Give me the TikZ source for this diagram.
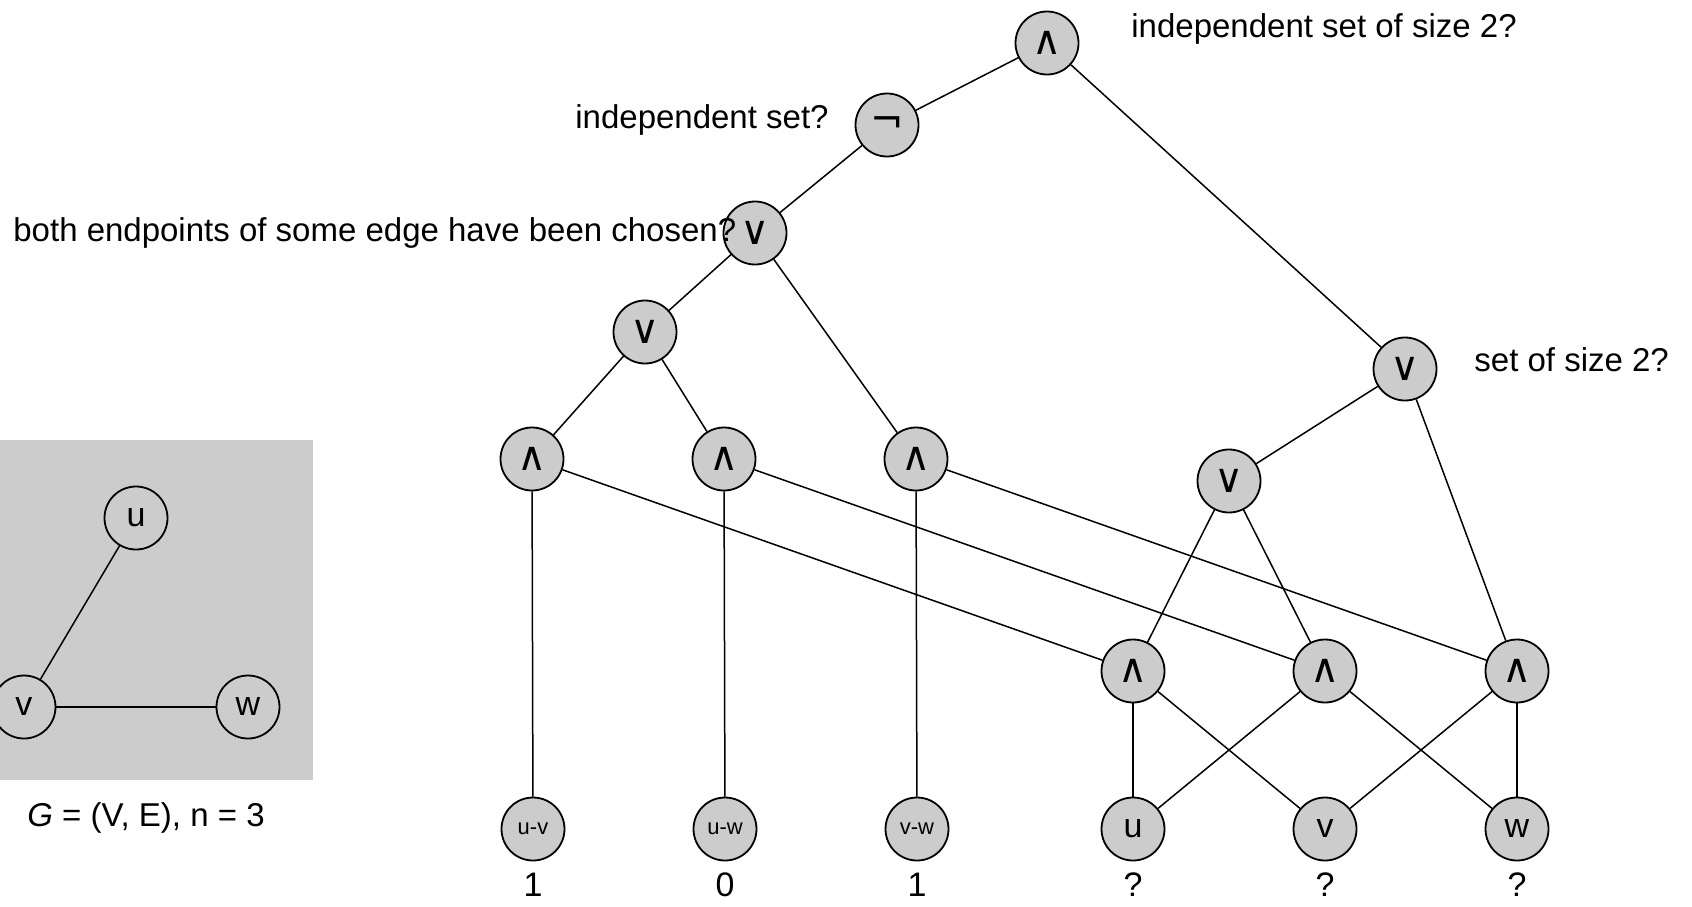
\documentclass[tikz,border=0pt]{standalone}
\usepackage{fontspec}
\setmainfont{Liberation Sans}
\newfontfamily\symf{DejaVu Sans}
\definecolor{gcol}{RGB}{204,204,204}
\begin{document}
\begin{tikzpicture}[x=0.5pt,y=-0.5pt,
  gate/.style={circle,draw,line width=0.9pt,fill=gcol,minimum size=31.5pt,inner sep=0pt,font=\symf\fontsize{20}{20}\selectfont},
  leaf/.style={gate,font=\fontsize{17}{17}\selectfont},
  eleaf/.style={gate,font=\fontsize{11}{11}\selectfont},
  gnode/.style={circle,draw,line width=0.9pt,fill=gcol,minimum size=31.5pt,inner sep=0pt,font=\fontsize{17}{17}\selectfont},
  lbl/.style={inner sep=0pt,font=\fontsize{16.5}{16.5}\selectfont},
  val/.style={lbl,anchor=base,text depth=0pt,font=\fontsize{17}{17}\selectfont},
  wire/.style={line width=0.75pt}]
\useasboundingbox (0,0) rectangle (1692,906);
\clip (0,0) rectangle (1692,906);
% small graph
\fill[gcol] (0,440) rectangle (313,780);
\node[gnode] (gu) at (136,518) {u};
\node[gnode] (gv) at (24,707) {v};
\node[gnode] (gw) at (248,707) {w};
\draw[wire] (gv) -- (gu);
\draw[wire] (gv) -- (gw);
\node[lbl] (glabel) at (146,818) {\textit{G} = (V, E), n = 3};
% circuit
\node[gate] (top) at (1047,43) {∧};
\node[gate] (neg) at (887,125) {¬};
\node[gate] (orA) at (755,233) {∨};
\node[gate] (orB) at (645,332) {∨};
\node[gate] (a1) at (532,459) {∧};
\node[gate] (a2) at (724,459) {∧};
\node[gate] (a3) at (916,459) {∧};
\node[gate] (orR) at (1405,369) {∨};
\node[gate] (orC) at (1229,481) {∨};
\node[gate] (a4) at (1133,671) {∧};
\node[gate] (a5) at (1325,671) {∧};
\node[gate] (a6) at (1517,671) {∧};
\node[eleaf] (luv) at (533,829) {u-v};
\node[eleaf] (luw) at (725,829) {u-w};
\node[eleaf] (lvw) at (917,829) {v-w};
\node[leaf] (lu) at (1133,829) {u};
\node[leaf] (lv) at (1325,829) {v};
\node[leaf] (lw) at (1517,829) {w};
% values
\node[val] (val1) at (533,896) {1};
\node[val] (val2) at (725,896) {0};
\node[val] (val3) at (917,896) {1};
\node[val] (val4) at (1133,896) {?};
\node[val] (val5) at (1325,896) {?};
\node[val] (val6) at (1517,896) {?};
% labels
\node[lbl,anchor=west] (t1) at (1131,29) {independent set of size 2?};
\node[lbl,anchor=east] (t2) at (829,120) {independent set?};
\node[lbl,anchor=west] (t3) at (13,233) {both endpoints of some edge have been chosen?};
\node[lbl,anchor=west] (t4) at (1474,360) {set of size 2?};
% wires
\draw[wire] (top) -- (neg);
\draw[wire] (top) -- (orR);
\draw[wire] (neg) -- (orA);
\draw[wire] (orA) -- (orB);
\draw[wire] (orA) -- (a3);
\draw[wire] (orB) -- (a1);
\draw[wire] (orB) -- (a2);
\draw[wire] (a1) -- (luv);
\draw[wire] (a2) -- (luw);
\draw[wire] (a3) -- (lvw);
\draw[wire] (a1) -- (a4);
\draw[wire] (a2) -- (a5);
\draw[wire] (a3) -- (a6);
\draw[wire] (orR) -- (orC);
\draw[wire] (orR) -- (a6);
\draw[wire] (orC) -- (a4);
\draw[wire] (orC) -- (a5);
\draw[wire] (a4) -- (lu);
\draw[wire] (a4) -- (lv);
\draw[wire] (a5) -- (lu);
\draw[wire] (a5) -- (lw);
\draw[wire] (a6) -- (lv);
\draw[wire] (a6) -- (lw);
\end{tikzpicture}
\end{document}
